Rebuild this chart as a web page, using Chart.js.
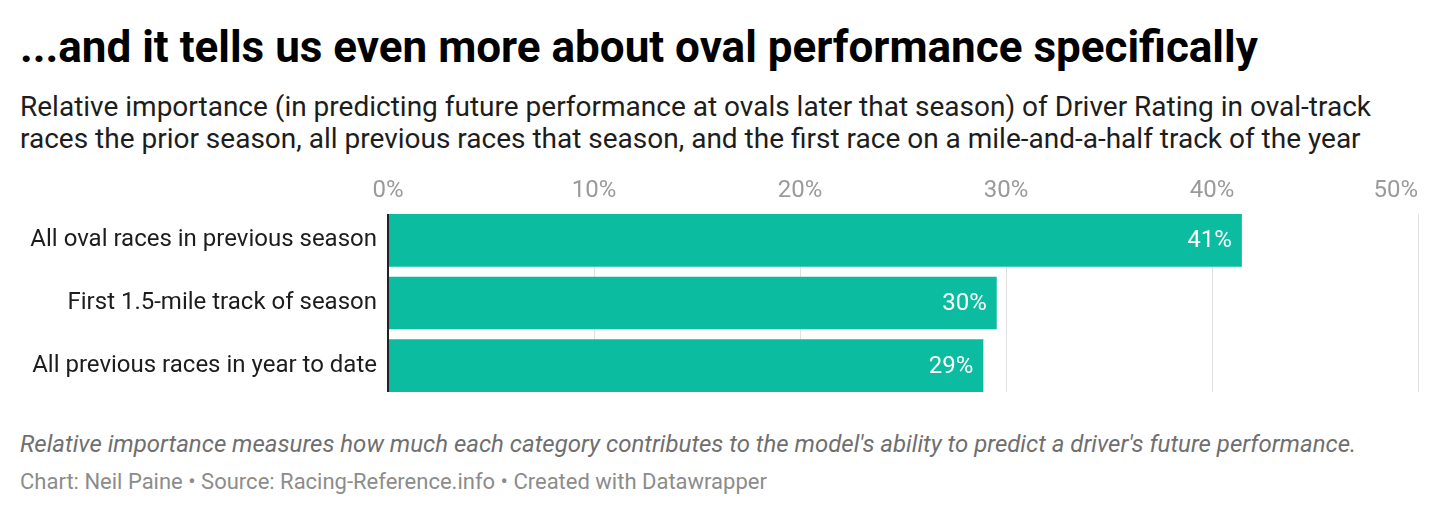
<!DOCTYPE html>
<html>
<head>
<meta charset="utf-8">
<script src="https://cdn.jsdelivr.net/npm/chart.js@4"></script>
<style>
  body { margin: 0; background: #fff; font-family: Roboto, sans-serif; width: 1440px; height: 516px; overflow: hidden; position: relative; }
  h1 { position: absolute; left: 20px; top: 21px; margin: 0; font-size: 44px; font-weight: 700; color: #000; line-height: 52px; }
  .sub { position: absolute; left: 20px; top: 91px; margin: 0; font-size: 28px; color: #1d1d1d; line-height: 32px; }
  .wrap { position: absolute; left: 0; top: 170px; width: 1440px; height: 230px; }
  .note { position: absolute; left: 20px; top: 430px; font-size: 24px; line-height: 28px; font-style: italic; color: #6f6f6f; }
  .credit { position: absolute; left: 20px; top: 469px; font-size: 22px; line-height: 26px; color: #8c8c8c; }
</style>
</head>
<body>
<h1>...and it tells us even more about oval performance specifically</h1>
<p class="sub">Relative importance (in predicting future performance at ovals later that season) of Driver Rating in oval-track<br>races the prior season, all previous races that season, and the first race on a mile-and-a-half track of the year</p>
<div class="wrap"><canvas id="chart"></canvas></div>
<div class="note">Relative importance measures how much each category contributes to the model's ability to predict a driver's future performance.</div>
<div class="credit">Chart: Neil Paine • Source: Racing-Reference.info • Created with Datawrapper</div>
<script>
const categories = ['All oval races in previous season', 'First 1.5-mile track of season', 'All previous races in year to date']
const importance = [41.45, 29.55, 28.9]
const tickValues = [0, 10, 20, 30, 40, 50]
const tickLabels = ['0%', '10%', '20%', '30%', '40%', '50%']

// grid lines only across the bars, zero line on top, tick + value labels
const barDecor = {
  id: 'barDecor',
  beforeDatasetsDraw(chart) {
    const ctx = chart.ctx
    const bars = chart.getDatasetMeta(0).data
    const top = bars[0].y - bars[0].height / 2
    const bottom = bars[bars.length - 1].y + bars[bars.length - 1].height / 2
    ctx.save()
    ctx.strokeStyle = '#e0e0e0'
    ctx.lineWidth = 1
    tickValues.slice(1).forEach(v => {
      const x = Math.round(chart.scales.x.getPixelForValue(v)) + 0.5
      ctx.beginPath()
      ctx.moveTo(x, top)
      ctx.lineTo(x, bottom)
      ctx.stroke()
    })
    // x tick labels, last one kept inside the plot edge
    ctx.fillStyle = '#9a9a9a'
    ctx.font = '24px Roboto'
    ctx.textBaseline = 'alphabetic'
    tickValues.forEach((v, i) => {
      ctx.textAlign = i === tickValues.length - 1 ? 'right' : 'center'
      ctx.fillText(tickLabels[i], chart.scales.x.getPixelForValue(v), chart.chartArea.top - 12)
    })
    ctx.restore()
  },
  afterDatasetsDraw(chart) {
    const ctx = chart.ctx
    const bars = chart.getDatasetMeta(0).data
    const top = bars[0].y - bars[0].height / 2
    const bottom = bars[bars.length - 1].y + bars[bars.length - 1].height / 2
    ctx.save()
    ctx.strokeStyle = '#222'
    ctx.lineWidth = 2
    const x0 = chart.scales.x.getPixelForValue(0)
    ctx.beginPath()
    ctx.moveTo(x0, top)
    ctx.lineTo(x0, bottom)
    ctx.stroke()
    ctx.fillStyle = '#fff'
    ctx.font = '24px Roboto'
    ctx.textAlign = 'right'
    ctx.textBaseline = 'middle'
    bars.forEach((bar, i) => {
      ctx.fillText(Math.round(importance[i]) + '%', bar.x - 10, bar.y + 1)
    })
    ctx.restore()
  }
}

new Chart(document.getElementById('chart'), {
  type: 'bar',
  data: {
    labels: categories,
    datasets: [{
      data: importance,
      backgroundColor: '#0bbca0',
      barPercentage: 0.84,
      categoryPercentage: 1
    }]
  },
  options: {
    indexAxis: 'y',
    responsive: true,
    maintainAspectRatio: false,
    animation: false,
    layout: { padding: { left: 0, right: 22, top: 0, bottom: 3 } },
    plugins: { legend: { display: false }, tooltip: { enabled: false } },
    scales: {
      x: {
        position: 'top',
        min: 0,
        max: 50,
        afterBuildTicks(axis) { axis.ticks = tickValues.map(v => ({ value: v })) },
        afterFit(axis) {
          axis.height = 39
          axis.paddingLeft = 0
          axis.paddingRight = 0
        },
        ticks: { display: false },
        grid: { display: false, drawTicks: false },
        border: { display: false }
      },
      y: {
        afterFit(axis) {
          axis.width = 388
          axis.paddingTop = 0
          axis.paddingBottom = 0
        },
        ticks: {
          color: '#1d1d1d',
          font: { family: 'Roboto', size: 24 },
          padding: 11
        },
        grid: { display: false, drawTicks: false },
        border: { display: false }
      }
    }
  },
  plugins: [barDecor]
})
</script>
</body>
</html>
